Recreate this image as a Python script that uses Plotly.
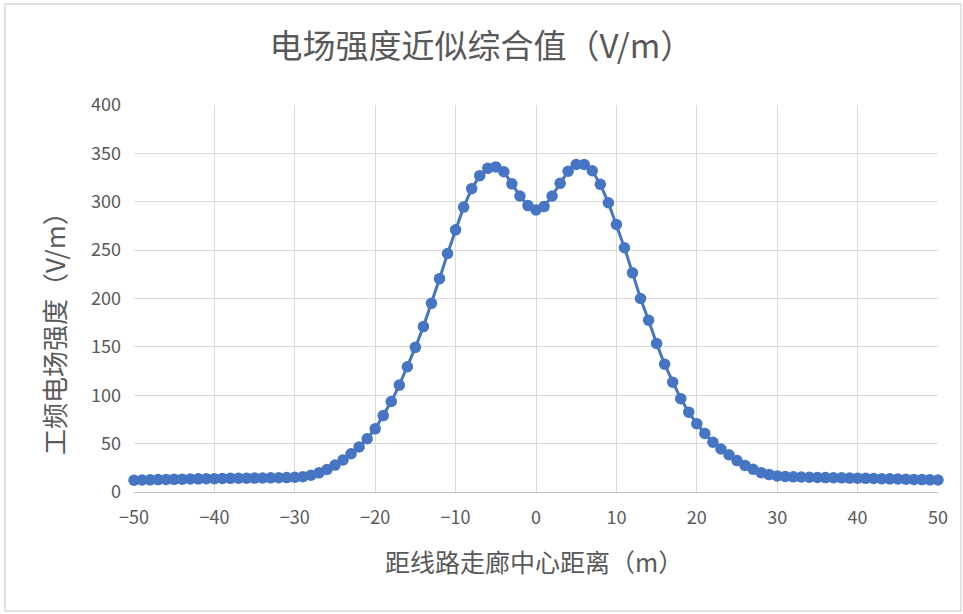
import plotly.graph_objects as go

# distance from corridor centre (m)
distance_m = [-50, -49, -48, -47, -46, -45, -44, -43, -42, -41,
              -40, -39, -38, -37, -36, -35, -34, -33, -32, -31,
              -30, -29, -28, -27, -26, -25, -24, -23, -22, -21,
              -20, -19, -18, -17, -16, -15, -14, -13, -12, -11,
              -10, -9, -8, -7, -6, -5, -4, -3, -2, -1,
              0,
              1, 2, 3, 4, 5, 6, 7, 8, 9, 10,
              11, 12, 13, 14, 15, 16, 17, 18, 19, 20,
              21, 22, 23, 24, 25, 26, 27, 28, 29, 30,
              31, 32, 33, 34, 35, 36, 37, 38, 39, 40,
              41, 42, 43, 44, 45, 46, 47, 48, 49, 50]

# power-frequency electric field strength (V/m)
field_vm = [12.2, 12.4, 12.6, 12.8, 13.0, 13.1, 13.3, 13.4, 13.6, 13.7,
            13.8, 14.0, 14.1, 14.2, 14.3, 14.4, 14.5, 14.6, 14.7, 14.9,
            15.2, 15.8, 17.3, 19.8, 23.3, 27.8, 33.2, 39.5, 46.6, 55.0,
            65.3, 79.0, 93.5, 110.5, 129.5, 149.5, 171.0, 195.0, 220.5, 246.5,
            271.0, 294.5, 313.5, 327.0, 334.5, 336.0, 331.0, 318.5, 306.0, 296.0,
            291.5,
            295.0, 306.0, 319.0, 331.5, 338.5, 338.5, 332.0, 318.0, 299.0, 276.5,
            252.5, 226.5, 200.0, 177.5, 153.5, 132.0, 113.5, 96.5, 82.5, 70.5,
            60.5, 51.5, 44.5, 38.5, 32.5, 27.5, 23.5, 20.0, 18.0, 16.6,
            16.0, 15.7, 15.5, 15.3, 15.1, 14.9, 14.7, 14.6, 14.4, 14.3,
            14.1, 13.9, 13.7, 13.6, 13.4, 13.2, 13.0, 12.8, 12.6, 12.4]

x_ticks = [-50, -40, -30, -20, -10, 0, 10, 20, 30, 40, 50]
y_ticks = [0, 50, 100, 150, 200, 250, 300, 350, 400]

title_text = "电场强度近似综合值（V/m）"
x_title = "距线路走廊中心距离（m）"
y_title = "工频电场强度（V/m）"

FONT = "Noto Sans CJK SC"
BLUE = "#4676C3"
GREY_TXT = "#595959"
GRID = "#d9d9d9"

W, H = 963, 614
L, R, T, B = 134, 25, 105, 122
pw, ph = W - L - R, H - T - B

def px_x(p):
    return (p - L) / pw

def px_y(p):
    return (H - B - p) / ph

fig = go.Figure()
fig.add_trace(go.Scatter(
    x=distance_m, y=field_vm, mode="lines+markers",
    line=dict(color=BLUE, width=3),
    marker=dict(color=BLUE, size=11.5, line=dict(width=0)),
    cliponaxis=False, showlegend=False,
))

fig.update_layout(
    width=W, height=H,
    margin=dict(l=L, r=R, t=T, b=B, autoexpand=False),
    paper_bgcolor="white", plot_bgcolor="white",
    font=dict(family=FONT, color=GREY_TXT),
    title=dict(text=title_text, x=0.5, xanchor="center",
               y=1 - 46 / H, yanchor="middle",
               font=dict(family=FONT, size=33, color=GREY_TXT)),
    xaxis=dict(range=[-50, 50], tickmode="array", tickvals=x_ticks,
               showgrid=True, gridcolor=GRID, gridwidth=1,
               zeroline=False, showline=True, linecolor="#bfbfbf", linewidth=1,
               ticks="", tickfont=dict(family=FONT, size=18, color=GREY_TXT),
               ticklabelstandoff=9, fixedrange=True),
    yaxis=dict(range=[0, 400], tickmode="array", tickvals=y_ticks,
               showgrid=True, gridcolor=GRID, gridwidth=1,
               zeroline=False, showline=False,
               ticks="", tickfont=dict(family=FONT, size=18, color=GREY_TXT),
               ticklabelstandoff=12, fixedrange=True),
    annotations=[
        dict(text=x_title, xref="paper", yref="paper",
             x=px_x(534), y=px_y(561), xanchor="center", yanchor="middle",
             showarrow=False, font=dict(family=FONT, size=25, color=GREY_TXT)),
        dict(text=y_title, xref="paper", yref="paper",
             x=px_x(53), y=px_y(327), xanchor="center", yanchor="middle",
             textangle=-90, showarrow=False,
             font=dict(family=FONT, size=26, color=GREY_TXT)),
    ],
    shapes=[
        dict(type="rect", xref="paper", yref="paper",
             x0=px_x(5), x1=px_x(961), y0=px_y(611), y1=px_y(4),
             line=dict(color=GRID, width=1.5), fillcolor="rgba(0,0,0,0)",
             layer="below"),
    ],
)

fig.write_html("out.html")
